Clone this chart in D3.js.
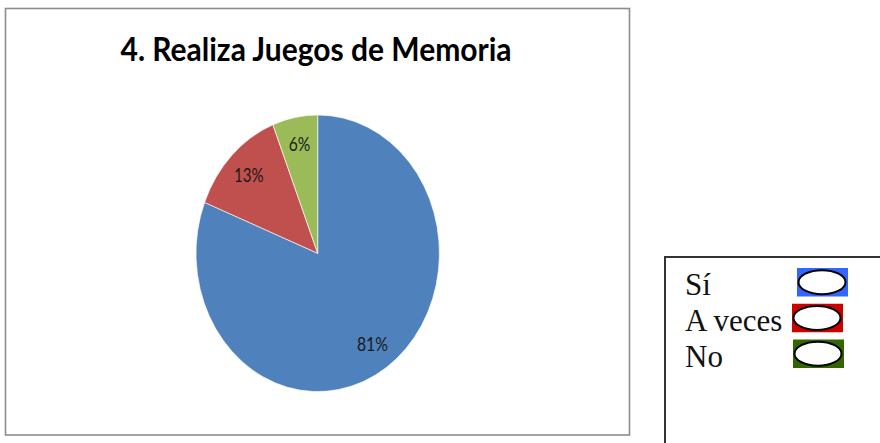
<!DOCTYPE html>
<html>
<head>
<meta charset="utf-8">
<script src="https://cdn.jsdelivr.net/npm/d3@7"></script>
<style>
html,body{margin:0;padding:0;background:#fff;}
svg{display:block;}
</style>
</head>
<body>
<svg id="chart" width="880" height="443"></svg>
<script>
// ---- data ----
const title = "4. Realiza Juegos de Memoria";
const categories = ["Sí", "A veces", "No"];
const values = [81, 13, 6];
const labels = ["81%", "13%", "6%"];
const sliceColors = ["#4F81BD", "#C0504D", "#9BBB59"];
const legendColors = ["#3366FF", "#CC0000", "#336600"];

const svg = d3.select("#chart");

// chart frame
svg.append("rect")
  .attr("x", 5.5).attr("y", 8.5).attr("width", 624).attr("height", 426.5)
  .attr("fill", "#fff").attr("stroke", "#8c8c8c").attr("stroke-width", 1.6);

// title
svg.append("text")
  .attr("x", 316).attr("y", 61)
  .attr("text-anchor", "middle")
  .attr("font-family", "Lato, 'Open Sans', sans-serif")
  .attr("font-weight", "bold")
  .attr("font-size", 32)
  .attr("textLength", 391).attr("lengthAdjust", "spacingAndGlyphs")
  .attr("fill", "#000")
  .text(title);

// pie (elliptical)
const cx = 317.7, cy = 253.3, rx = 121.7, ry = 138.3;
const pie = d3.pie().sort(null).value(d => d)(values);
const arc = d3.arc().innerRadius(0).outerRadius(rx);
const labelArc = d3.arc().innerRadius(rx * 0.8).outerRadius(rx * 0.8);

const g = svg.append("g")
  .attr("transform", `translate(${cx},${cy}) scale(1,${ry / rx})`);
g.selectAll("path").data(pie).join("path")
  .attr("d", arc)
  .attr("fill", (d, i) => sliceColors[i])
  .attr("stroke", "#fff").attr("stroke-width", 0.6);

const labelWidths = [31, 29.5, 21.5];
svg.selectAll("text.lbl").data(pie).join("text")
  .attr("class", "lbl")
  .attr("x", d => cx + labelArc.centroid(d)[0])
  .attr("y", d => cy + labelArc.centroid(d)[1] * ry / rx + 6.5)
  .attr("text-anchor", "middle")
  .attr("font-family", "Lato, 'Open Sans', sans-serif")
  .attr("font-size", 18.5)
  .attr("textLength", (d, i) => labelWidths[i])
  .attr("lengthAdjust", "spacingAndGlyphs")
  .attr("fill", "#1a1a1a")
  .text((d, i) => labels[i]);

// legend box
svg.append("rect")
  .attr("x", 665).attr("y", 257).attr("width", 240).attr("height", 220)
  .attr("fill", "#fff").attr("stroke", "#333").attr("stroke-width", 2);

const legY = d3.scalePoint().domain(categories).range([295, 366.5]);
const swatchX = [797, 792, 793];
categories.forEach((c, i) => {
  const by = legY(c);
  svg.append("text")
    .attr("x", 685).attr("y", by)
    .attr("font-family", "'Liberation Serif', 'Times New Roman', serif")
    .attr("font-size", 31)
    .attr("fill", "#111")
    .text(c);
  const sx = swatchX[i], sy = by - 27;
  svg.append("rect")
    .attr("x", sx).attr("y", sy).attr("width", 51).attr("height", 28.5)
    .attr("fill", legendColors[i]);
  svg.append("ellipse")
    .attr("cx", sx + 25).attr("cy", sy + 14.2).attr("rx", 23.5).attr("ry", 12)
    .attr("fill", "#fff").attr("stroke", "#000").attr("stroke-width", 2);
});
</script>
</body>
</html>
